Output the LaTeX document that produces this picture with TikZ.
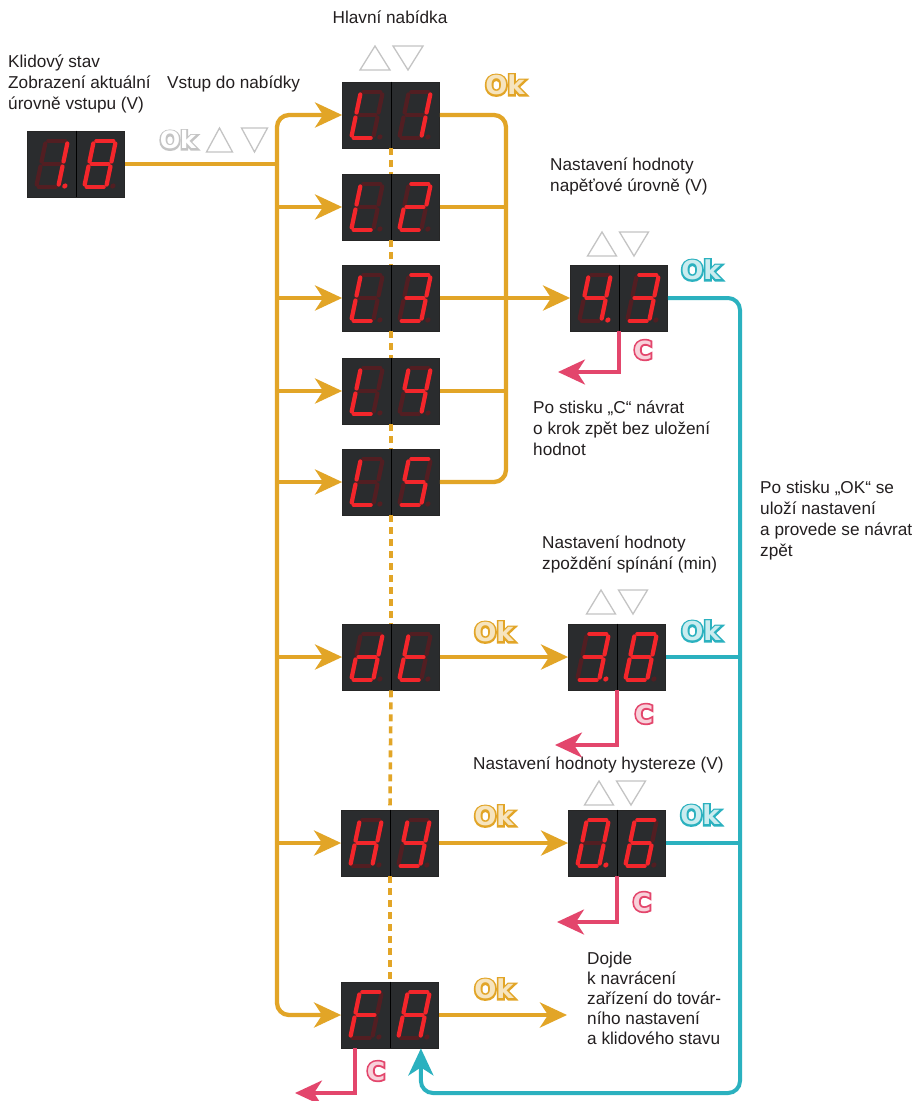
\documentclass[tikz,border=0pt]{standalone}
\usepackage{fontspec}
\setmainfont{Liberation Sans}
\newfontfamily\okfont{DejaVu Sans}
\newfontface\okfat{DejaVu Sans Bold}[FakeBold=14]
\usetikzlibrary{arrows.meta}
\definecolor{cY}{HTML}{E2A527}
\definecolor{cC}{HTML}{2BB1BF}
\definecolor{cP}{HTML}{E3466C}
\definecolor{cG}{HTML}{C4C4C4}
\definecolor{dbg}{HTML}{2A2C2E}
\definecolor{slit}{HTML}{F3262B}
\definecolor{sdim}{HTML}{521E22}
\definecolor{txt}{HTML}{231F20}
% seven-segment paths (y downwards)
\def\segXa{(-8.5,-23)--(8.5,-23)}
\def\segXb{(11,-20.5)--(11,-2.5)}
\def\segXc{(11,2.5)--(11,20.5)}
\def\segXd{(-8.5,23)--(8.5,23)}
\def\segXe{(-11,2.5)--(-11,20.5)}
\def\segXf{(-11,-20.5)--(-11,-2.5)}
\def\segXg{(-8.5,0)--(8.5,0)}
\newcommand\sdigit[4]{%
  \begin{scope}[shift={(#1,#2)}, xslant=0.21]
    \foreach \s in {a,b,c,d,e,f,g}{\expandafter\let\expandafter\segp\csname segX\s\endcsname \draw[segdim] \segp;}
    \foreach \s in {#3}{\expandafter\let\expandafter\segp\csname segX\s\endcsname \draw[seglit] \segp;}
    \fill[#4] (17.5,22) circle (2.6pt);
  \end{scope}}
\newcommand\disp[6]{%
  \node[dispbox] (#1) at (#2,#3) {};
  \draw[divider] (#1.north) -- (#1.south);
  \sdigit{#2-24}{#3}{#4}{#6}
  \sdigit{#2+24}{#3}{#5}{sdim}}
\newcommand\arrowpair[4]{% cx, cy, half gap, width
  \draw[tri] (#1-#3-#4,#2+12) -- (#1-#3,#2+12) -- (#1-#3-#4/2,#2-12) -- cycle;
  \draw[tri] (#1+#3,#2-12) -- (#1+#3+#4,#2-12) -- (#1+#3+#4/2,#2+12) -- cycle;}
\newcommand\outlined[3]{\rlap{\color{#2}\okfat #1}\textcolor{#3}{#1}}
\newcommand\txtblk[1]{\begin{tabular}[t]{@{}l@{}}#1\end{tabular}}
\tikzset{
  segdim/.style={draw=sdim, line width=4.2pt, line cap=round},
  seglit/.style={draw=slit, line width=4.2pt, line cap=round},
  dispbox/.style={draw=black!85, line width=0.8pt, fill=dbg, minimum width=97pt, minimum height=66pt, inner sep=0pt},
  divider/.style={draw=black, line width=1pt},
  tri/.style={draw=cG, line width=1.3pt, line join=miter},
  tx/.style={inner sep=0pt, anchor=base west, text=txt, font=\fontsize{17.2}{21}\selectfont},
  okl/.style={inner sep=0pt, font=\okfont\bfseries\fontsize{26}{26}\selectfont},
  yl/.style={draw=cY, line width=4.3pt},
  cl/.style={draw=cC, line width=4pt},
  pl/.style={draw=cP, line width=3.6pt},
  arrY/.style={yl, -{Stealth[length=27pt,width=25pt,inset=8pt]}},
  arrC/.style={cl, -{Stealth[length=27pt,width=25pt,inset=8pt]}},
  arrP/.style={pl, -{Stealth[length=27pt,width=25pt,inset=8pt]}},
}
\begin{document}
\begin{tikzpicture}[x=1pt,y=-1pt]
\useasboundingbox[fill=white] (0,0) rectangle (913,1101);

% texts
\node[tx, anchor=base] (title) at (390,23) {Hlavní nabídka};
\node[tx] (klid) at (8,67) {\txtblk{Klidový stav\\Zobrazení aktuální\\úrovně vstupu (V)}};
\node[tx] (vstup) at (167,88) {Vstup do nabídky};
\node[tx] (nast1) at (550,170) {\txtblk{Nastavení hodnoty\\napěťové úrovně (V)}};
\node[tx] (poc) at (533,413) {\txtblk{Po stisku „C“ návrat\\o krok zpět bez uložení\\hodnot}};
\node[tx] (pook) at (760,493) {\txtblk{Po stisku „OK“ se\\uloží nastavení\\a provede se návrat\\zpět}};
\node[tx] (nast2) at (542,548) {\txtblk{Nastavení hodnoty\\zpoždění spínání (min)}};
\node[tx] (nast3) at (473,769) {Nastavení hodnoty hystereze (V)};
\node[tx, font=\fontsize{17.2}{20.2}\selectfont] (dojde) at (587,964) {\txtblk{Dojde\\k navrácení\\zařízení do továr-\\ního nastavení\\a klidového stavu}};

% up/down icons
\arrowpair{237}{140}{4.5}{26}
\arrowpair{391.5}{58}{1.5}{30}
\arrowpair{618}{244}{1.5}{29}
\arrowpair{617}{602}{1.5}{29}
\arrowpair{615}{793}{1.5}{29}

% Ok / C labels
\node[okl, font=\okfont\bfseries\fontsize{24}{24}\selectfont] (ok0) at (178,140) {\outlined{Ok}{cG}{white}};
\node[okl] (ok1) at (505,85) {\outlined{Ok}{cY}{cY!30}};
\node[okl] (ok2) at (701,270) {\outlined{Ok}{cC}{cC!25}};
\node[okl] (ok3) at (494,632) {\outlined{Ok}{cY}{cY!30}};
\node[okl] (ok4) at (701,631) {\outlined{Ok}{cC}{cC!25}};
\node[okl] (ok5) at (494,816) {\outlined{Ok}{cY}{cY!30}};
\node[okl] (ok6) at (700,815) {\outlined{Ok}{cC}{cC!25}};
\node[okl] (ok7) at (494,989) {\outlined{Ok}{cY}{cY!30}};
\node[okl, font=\okfont\bfseries\fontsize{25}{25}\selectfont] (c1) at (643,350) {\outlined{C}{cP}{cP!25}};
\node[okl, font=\okfont\bfseries\fontsize{25}{25}\selectfont] (c2) at (644,714) {\outlined{C}{cP}{cP!25}};
\node[okl, font=\okfont\bfseries\fontsize{25}{25}\selectfont] (c3) at (642,902) {\outlined{C}{cP}{cP!25}};
\node[okl, font=\okfont\bfseries\fontsize{25}{25}\selectfont] (c4) at (376,1071) {\outlined{C}{cP}{cP!25}};

% displays
\disp{D18}{76}{164}{b,c}{a,b,c,d,e,f,g}{slit}
\disp{L1}{391}{115}{d,e,f}{b,c}{sdim}
\disp{L2}{391}{207}{d,e,f}{a,b,g,e,d}{sdim}
\disp{L3}{391}{298}{d,e,f}{a,b,g,c,d}{sdim}
\disp{L4}{391}{391}{d,e,f}{f,g,b,c}{sdim}
\disp{L5}{391}{482}{d,e,f}{a,f,g,c,d}{sdim}
\disp{DT}{391}{657}{b,c,d,e,g}{d,e,f,g}{sdim}
\disp{HY}{390}{843}{b,c,e,f,g}{b,c,d,f,g}{sdim}
\disp{FA}{390}{1015}{a,e,f,g}{a,b,c,e,f,g}{sdim}
\disp{V43}{619}{298}{b,c,f,g}{a,b,c,d,g}{slit}
\disp{V38}{617}{657}{a,b,c,d,g}{a,b,c,d,e,f,g}{slit}
\disp{V06}{617}{843}{a,b,c,d,e,f}{a,c,d,e,f,g}{slit}

% dotted menu spine
\foreach \a/\b in {L1/L2,L2/L3,L3/L4,L4/L5,L5/DT,DT/HY,HY/FA}
  \draw[yl, line width=3.6pt, dash pattern=on 7pt off 5pt] (\a.south) -- (\b.north);

% yellow connectors
\coordinate (bus) at (277,164);
\coordinate (rb1) at (506,115);
\coordinate (rb5) at (506,482);
\coordinate (faok) at (567,1015);
\draw[yl] (D18.east) -- (bus);
\draw[arrY, rounded corners=12pt] (bus) |- (L1.west);
\draw[arrY, rounded corners=12pt] (bus) |- (FA.west);
\foreach \n in {L2,L3,L4,L5,DT,HY}
  \draw[arrY] (\n.west -| bus) -- (\n.west);
\draw[yl, rounded corners=12pt] (L1.east) -- (rb1) -- (rb5) -- (L5.east);
\draw[yl] (L2.east) -- (L2.east -| rb1);
\draw[yl] (L4.east) -- (L4.east -| rb1);
\draw[arrY] (L3.east) -- (V43.west);
\draw[arrY] (DT.east) -- (V38.west);
\draw[arrY] (HY.east) -- (V06.west);
\draw[arrY] (FA.east) -- (faok);

% cyan connectors
\coordinate (cr) at (740,1093);
\draw[arrC, rounded corners=12pt] (V43.east) -| (cr) -| ([xshift=-18pt]FA.south east);
\draw[cl] (V38.east) -- (V38.east -| cr);
\draw[cl] (V06.east) -- (V06.east -| cr);

% pink C connectors
\coordinate (p1) at (558,372);
\coordinate (p2) at (555,745);
\coordinate (p3) at (557,922);
\coordinate (p4) at (295,1093);
\draw[arrP] (V43.south) |- (p1);
\draw[arrP] (V38.south) |- (p2);
\draw[arrP] (V06.south) |- (p3);
\draw[arrP] ([xshift=14pt]FA.south west) |- (p4);
\end{tikzpicture}
\end{document}
